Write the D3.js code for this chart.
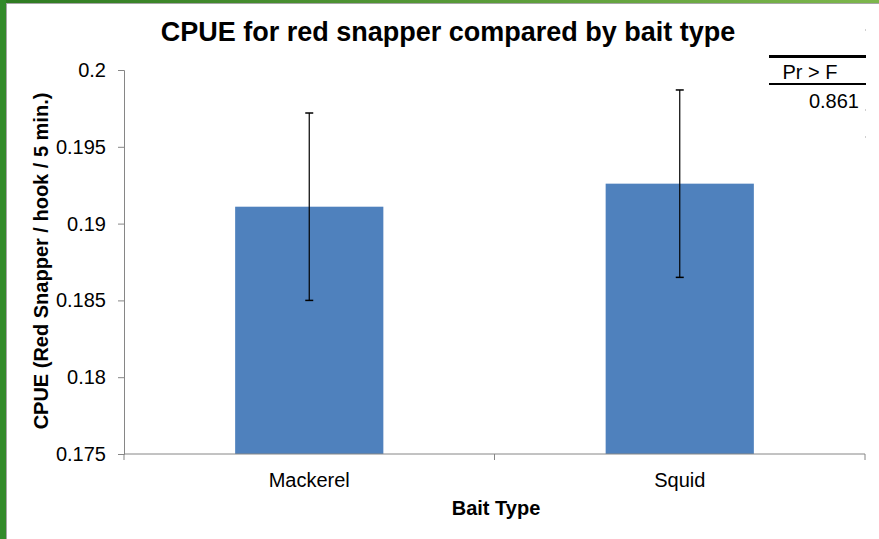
<!DOCTYPE html>
<html>
<head>
<meta charset="utf-8">
<script src="https://cdn.jsdelivr.net/npm/d3@7"></script>
<style>
  body { margin: 0; background: #fff; }
  text { font-family: Arial, "Liberation Sans", sans-serif; }
</style>
</head>
<body>
<svg id="chart" width="879" height="539"></svg>
<script>
// data
let baits = ["Mackerel", "Squid"];
let cpue = [0.1911, 0.1926];
let errs = [0.0061, 0.0061];
let yTicks = [0.175, 0.18, 0.185, 0.19, 0.195, 0.2];
let tableHead = "Pr > F";
let tableVal = "0.861";

const W = 879, H = 539;
const margin = {left: 124, right: 14, top: 70, bottom: 85};
const svg = d3.select("#chart");
const FONT = "Arial, 'Liberation Sans', sans-serif";

// frame: green border on left and top
let grad = svg.append("defs").append("linearGradient")
  .attr("id", "topg").attr("x1", "0").attr("x2", "1").attr("y1", "0").attr("y2", "0");
grad.append("stop").attr("offset", "0").attr("stop-color", "#2e7b22");
grad.append("stop").attr("offset", "1").attr("stop-color", "#7db64c");

svg.append("rect").attr("x", 0).attr("y", 0).attr("width", W).attr("height", 3).attr("fill", "url(#topg)");
svg.append("rect").attr("x", 0).attr("y", 0).attr("width", 6).attr("height", H).attr("fill", "#328a2a");
svg.append("line").attr("x1", 6.5).attr("x2", 6.5).attr("y1", 3).attr("y2", H).attr("stroke", "#a6a6a6");
svg.append("line").attr("x1", 6).attr("x2", W).attr("y1", 3.5).attr("y2", 3.5).attr("stroke", "#a6a6a6");

// scales
let xCat = d3.scaleBand().domain(baits).range([margin.left, W - margin.right]);
let y = d3.scaleLinear().domain([0.175, 0.2]).range([H - margin.bottom, margin.top]);

// bars (gap width 150%)
svg.selectAll(".bar")
  .data(baits)
  .enter()
  .append("rect")
  .attr("class", "bar")
  .attr("x", d => xCat(d) + xCat.bandwidth() / 2 - xCat.bandwidth() / 5)
  .attr("width", xCat.bandwidth() / 2.5)
  .attr("y", (d, i) => y(cpue[i]))
  .attr("height", (d, i) => y(0.175) - y(cpue[i]))
  .attr("fill", "#4f81bd");

// y axis
let yAxis = svg.append("g")
  .attr("transform", `translate(${margin.left},0)`)
  .call(d3.axisLeft(y).tickValues(yTicks).tickSize(6).tickPadding(12).tickFormat(d => String(+d.toFixed(3))));
yAxis.attr("font-family", FONT).attr("font-size", 20);
yAxis.select(".domain").attr("stroke", "#868686");
yAxis.selectAll(".tick line").attr("stroke", "#868686");
yAxis.selectAll(".tick text").attr("fill", "#000");

// x axis
let bounds = [margin.left, margin.left + xCat.bandwidth(), W - margin.right];
let xAxis = svg.append("g").attr("transform", `translate(0,${y(0.175)})`);
xAxis.append("line").attr("x1", margin.left).attr("x2", W - margin.right)
  .attr("stroke", "#868686");
xAxis.selectAll(".xt").data(bounds).enter().append("line")
  .attr("x1", d => d).attr("x2", d => d).attr("y1", 0).attr("y2", 6)
  .attr("stroke", "#868686");
xAxis.selectAll(".xl").data(baits).enter().append("text")
  .attr("x", d => xCat(d) + xCat.bandwidth() / 2)
  .attr("y", 33)
  .attr("text-anchor", "middle")
  .attr("font-size", 20)
  .text(d => d);

// error bars
let eb = svg.selectAll(".err").data(baits).enter().append("g").attr("class", "err");
let cx = d => xCat(d) + xCat.bandwidth() / 2;
eb.append("line")
  .attr("x1", cx).attr("x2", cx)
  .attr("y1", (d, i) => y(cpue[i] + errs[i]))
  .attr("y2", (d, i) => y(cpue[i] - errs[i]))
  .attr("stroke", "#000").attr("stroke-width", 1.2);
[1, -1].forEach(s => {
  eb.append("line")
    .attr("x1", d => cx(d) - 4).attr("x2", d => cx(d) + 4)
    .attr("y1", (d, i) => y(cpue[i] + s * errs[i]))
    .attr("y2", (d, i) => y(cpue[i] + s * errs[i]))
    .attr("stroke", "#000").attr("stroke-width", 1.5);
});

// titles
svg.append("text").attr("x", 448).attr("y", 41).attr("text-anchor", "middle")
  .attr("font-size", 27).attr("font-weight", "bold").text("CPUE for red snapper compared by bait type");
svg.append("text").attr("x", 496).attr("y", 515).attr("text-anchor", "middle")
  .attr("font-size", 20).attr("font-weight", "bold").text("Bait Type");
svg.append("text").attr("transform", "translate(48,261) rotate(-90)").attr("text-anchor", "middle")
  .attr("font-size", 20).attr("font-weight", "bold").text("CPUE (Red Snapper / hook / 5 min.)");

// Pr > F table
svg.append("line").attr("x1", 769).attr("x2", 866).attr("y1", 56.5).attr("y2", 56.5)
  .attr("stroke", "#000").attr("stroke-width", 3);
svg.append("text").attr("x", 810).attr("y", 79).attr("text-anchor", "middle")
  .attr("font-size", 20).text(tableHead);
svg.append("line").attr("x1", 769).attr("x2", 866).attr("y1", 84).attr("y2", 84)
  .attr("stroke", "#000").attr("stroke-width", 2);
svg.append("text").attr("x", 859).attr("y", 108).attr("text-anchor", "end")
  .attr("font-size", 20).text(tableVal);
// faint cell marks on the right edge
svg.selectAll(".cm").data([30, 110, 137]).enter().append("line")
  .attr("x1", 865.5).attr("x2", 865.5).attr("y1", d => d - 1).attr("y2", d => d + 1)
  .attr("stroke", "#d0d0d0");
</script>
</body>
</html>
